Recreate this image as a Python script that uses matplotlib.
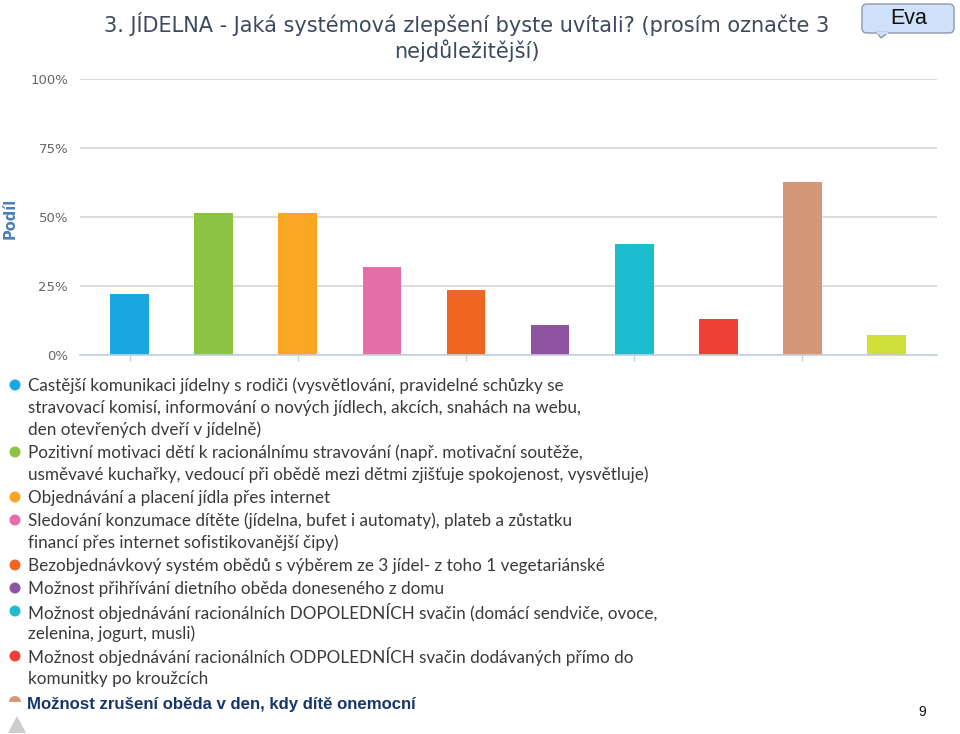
import matplotlib
matplotlib.use("Agg")
import matplotlib.pyplot as plt
from matplotlib.patches import FancyBboxPatch, Polygon, Circle, Wedge
from matplotlib.ticker import FuncFormatter

# ---- data ----
values = [22.2, 51.6, 51.6, 32.0, 23.7, 11.0, 40.3, 13.0, 62.7, 7.2]
colors = ["#1ba7e0", "#8bc443", "#f9a622", "#e56ea9", "#f06522",
          "#8e54a2", "#1cbdcf", "#ef4036", "#d69777", "#d0de38"]
legend_labels = [
    "Castější komunikaci jídelny s rodiči (vysvětlování, pravidelné schůzky se\nstravovací komisí, informování o nových jídlech, akcích, snahách na webu,\nden otevřených dveří v jídelně)",
    "Pozitivní motivaci dětí k racionálnímu stravování (např. motivační soutěže,\nusměvavé kuchařky, vedoucí při obědě mezi dětmi zjišťuje spokojenost, vysvětluje)",
    "Objednávání a placení jídla přes internet",
    "Sledování konzumace dítěte (jídelna, bufet i automaty), plateb a zůstatku\nfinancí přes internet sofistikovanější čipy)",
    "Bezobjednávkový systém obědů s výběrem ze 3 jídel- z toho 1 vegetariánské",
    "Možnost přihřívání dietního oběda doneseného z domu",
    "Možnost objednávání racionálních DOPOLEDNÍCH svačin (domácí sendviče, ovoce,\nzelenina, jogurt, musli)",
    "Možnost objednávání racionálních ODPOLEDNÍCH svačin dodávaných přímo do\nkomunitky po kroužcích",
    "Možnost zrušení oběda v den, kdy dítě onemocní",
]
yticks = [0, 25, 50, 75, 100]
title = "3. JÍDELNA - Jaká systémová zlepšení byste uvítali? (prosím označte 3\nnejdůležitější)"
ylabel = "Podíl"
badge = "Eva"
page = "9"

W, H = 960, 734
fig = plt.figure(figsize=(W / 100, H / 100), dpi=100)

# ---- main chart ----
ax = fig.add_axes([80 / W, 1 - 355.3 / H, (937 - 80) / W, (355.3 - 79.3) / H])
x = list(range(len(values)))
ax.bar(x, values, width=0.46, color=colors, zorder=3)
ax.set_ylim(0, 100)
ax.set_xlim(-0.589, 9.6)
ax.set_yticks(yticks)
ax.yaxis.set_major_formatter(FuncFormatter(lambda v, p: f"{int(v)}%"))
ax.tick_params(axis="y", length=0, pad=8.6, labelsize=9.5, labelcolor="#666666")
ax.set_xticks([i for i in x if i % 2 == 0])
ax.set_xticklabels([])
ax.tick_params(axis="x", length=4, color="#c0d0e0", width=1)
ax.grid(axis="y", color="#d6d6d6", linewidth=1.2, zorder=0)
for s in ("top", "right", "left"):
    ax.spines[s].set_visible(False)
ax.spines["bottom"].set_color("#c0d0e0")
ax.spines["bottom"].set_linewidth(1.2)
ax.spines["bottom"].set_zorder(4)

fig.text(10 / W, 1 - 218 / H, ylabel, rotation=90, ha="center", va="center",
         fontsize=10.5, fontweight="bold", color="#4d7eb3", family="DejaVu Sans")

fig.text(466.5 / W, 1 - 12 / H, title, ha="center", va="top", fontsize=15,
         color="#3b4a5e", family="DejaVu Sans", linespacing=1.2)

# ---- overlay in pixel coords ----
ov = fig.add_axes([0, 0, 1, 1], zorder=10)
ov.set_xlim(0, W)
ov.set_ylim(H, 0)
ov.axis("off")
ov.patch.set_alpha(0)

y = 386
line_h = 22
n = len(legend_labels)
for i, lab in enumerate(legend_labels):
    lines = lab.split("\n")
    if i < n - 1:
        ov.add_patch(Circle((15, y - 1), 5.5, color=colors[i], lw=0))
        for k, ln in enumerate(lines):
            ov.text(28, y + k * line_h, ln, ha="left", va="center", fontsize=12.3,
                    color="#3a3a3a", family="Lato")
    else:
        ov.add_patch(Wedge((15, y), 6, 180, 360, color=colors[i], lw=0))
        ov.text(27, y + 2, lines[0], ha="left", va="center", fontsize=12.1,
                color="#17376a", fontweight="bold", family="Liberation Sans")
    y += len(lines) * line_h + 1

# scroll arrow
ov.add_patch(Polygon([[8, 733], [26, 733], [17, 716]], closed=True, color="#cccccc", lw=0))

# badge
ov.add_patch(FancyBboxPatch((862, 4), 92, 29, boxstyle="round,pad=0,rounding_size=5",
                            fc="#cfe1f8", ec="#8c99aa", lw=1))
ov.add_patch(Polygon([[877, 32.5], [888, 32.5], [881, 38]], closed=True,
                     fc="#cfe1f8", ec="#8c99aa", lw=1))
ov.plot([877.8, 887.2], [32.5, 32.5], color="#cfe1f8", lw=1.5)
ov.text(909, 19, badge, ha="center", va="center", fontsize=15.5, color="#111111",
        family="Liberation Sans")

ov.text(922, 712, page, ha="center", va="center", fontsize=10, color="#111111",
        family="Liberation Sans")

fig.savefig("out.png", dpi=100)
